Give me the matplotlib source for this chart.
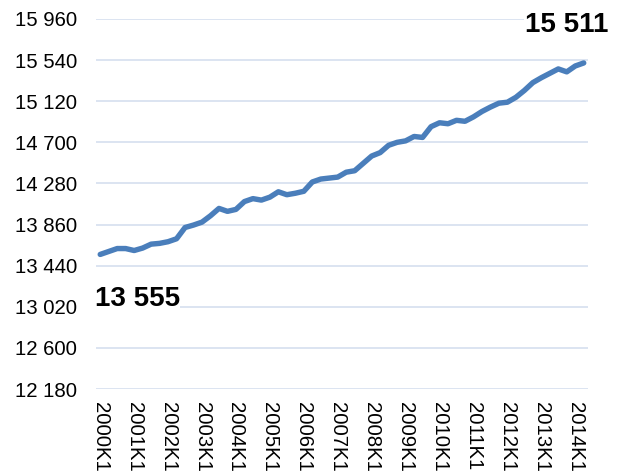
import matplotlib.pyplot as plt

plt.rcParams['font.family'] = ['Liberation Sans', 'DejaVu Sans']

# quarterly series, 2000K1 .. 2014K2
years = list(range(2000, 2015))
quarters = [f"{y}K{q}" for y in years for q in range(1, 5)][:58]
values = [
    13555, 13585, 13615, 13615, 13595, 13620, 13660, 13668,
    13685, 13715, 13830, 13855, 13885, 13950, 14025, 13995,
    14015, 14095, 14125, 14110, 14140, 14195, 14165, 14180,
    14200, 14295, 14325, 14335, 14345, 14395, 14410, 14485,
    14560, 14595, 14670, 14700, 14715, 14760, 14750, 14860,
    14900, 14890, 14925, 14915, 14960, 15015, 15060, 15100,
    15110, 15160, 15230, 15310, 15360, 15405, 15450, 15420,
    15480, 15511,
]
y_ticks = [12180, 12600, 13020, 13440, 13860, 14280, 14700, 15120, 15540, 15960]

fig = plt.figure(figsize=(6.22, 4.75), dpi=100)
ax = fig.add_axes([0.1543, 0.181, 0.791, 0.779])

x = list(range(len(values)))
ax.plot(x, values, color='#4A7EBB', linewidth=3.9, solid_capstyle='round', zorder=3)

ax.set_ylim(y_ticks[0], y_ticks[-1])
ax.set_xlim(-0.5, len(values) - 0.5)
ax.set_yticks(y_ticks)
ax.set_yticklabels([f"{v:,}".replace(",", " ") for v in y_ticks], fontsize=14.7)
ax.set_xticks(x[::4])
ax.set_xticklabels(quarters[::4], rotation=-90, fontsize=14.7, va='top', ha='center')
ax.tick_params(length=0)
ax.tick_params(axis='y', pad=13.5)
ax.tick_params(axis='x', pad=9.5)
ax.grid(axis='y', color='#D9E2F0', linewidth=1.3, zorder=0)
for s in ax.spines.values():
    s.set_visible(False)

ax.text(-0.6, 12965, f"{values[0]:,}".replace(",", " "), fontsize=20, fontweight='bold',
        ha='left', va='bottom', zorder=4,
        bbox=dict(facecolor='white', edgecolor='none', pad=0))
ax.text(59.9, 15894, f"{values[-1]:,}".replace(",", " "), fontsize=20, fontweight='bold',
        ha='right', va='center', zorder=4, clip_on=False,
        bbox=dict(facecolor='white', edgecolor='none', pad=1))

fig.savefig("out.png", dpi=100)
